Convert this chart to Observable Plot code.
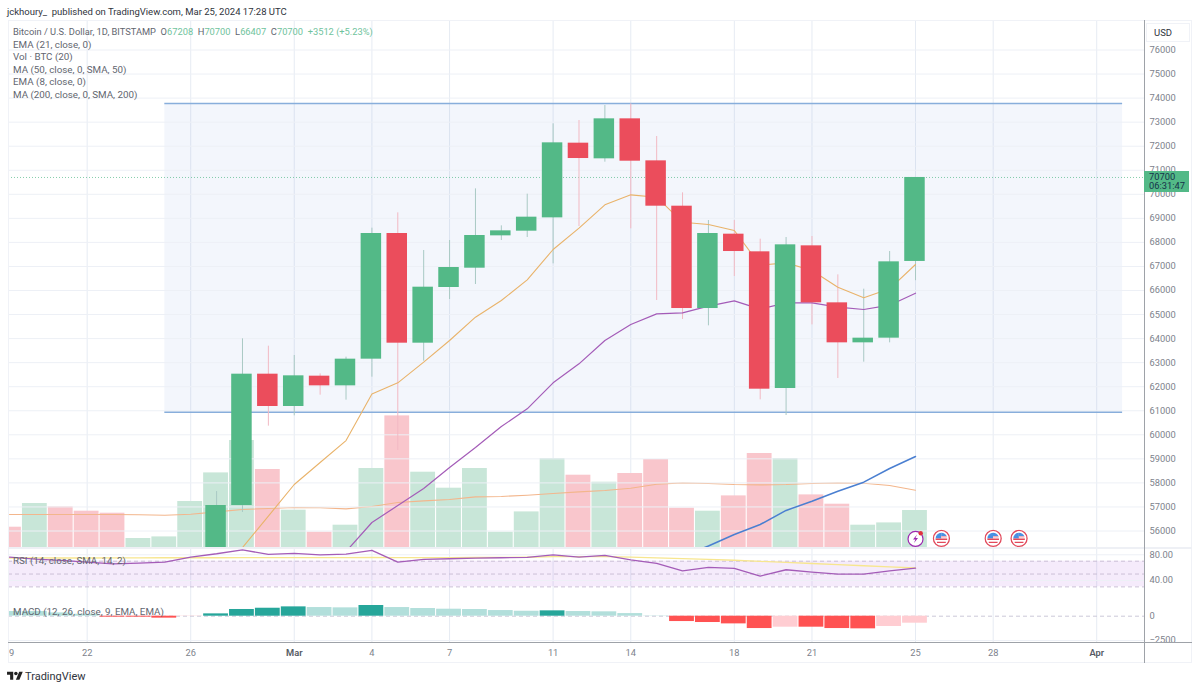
<!DOCTYPE html>
<html>
<head>
<meta charset="utf-8">
<script src="https://cdn.jsdelivr.net/npm/d3@7"></script>
<script src="https://cdn.jsdelivr.net/npm/@observablehq/plot@0.6"></script>
<style>
html,body{margin:0;padding:0;background:#fff}
#page{position:relative;width:1200px;height:689px;overflow:hidden;font-family:Roboto,"Noto Sans",sans-serif}
#page svg{position:absolute;left:0;top:0}
.t{position:absolute;white-space:pre;line-height:1}
.box{position:absolute}
</style>
</head>
<body>
<div id="page"></div>
<script>
// ---------- data ----------
const candleDates = ["2024-02-27","2024-02-28","2024-02-29","2024-03-01","2024-03-02","2024-03-03","2024-03-04","2024-03-05","2024-03-06","2024-03-07","2024-03-08","2024-03-09","2024-03-10","2024-03-11","2024-03-12","2024-03-13","2024-03-14","2024-03-15","2024-03-16","2024-03-17","2024-03-18","2024-03-19","2024-03-20","2024-03-21","2024-03-22","2024-03-23","2024-03-24","2024-03-25"];
const opens  = [54500,57060,62521,61177,62438,62036,63145,68370,63810,66125,66928,68273,68467,69021,72126,71475,73138,71391,69506,65251,68342,67608,61925,67857,65487,63824,64018,67208];
const highs  = [57640,63990,63685,63297,62535,63228,68592,69229,67663,68079,70227,68689,70005,72930,73068,73692,73760,72403,70061,68910,68910,68134,68204,68245,66651,66055,67621,70700];
const lows   = [54450,56770,60359,60790,61648,61440,62396,59347,63062,65626,66249,68079,68204,67109,68661,71336,68564,65584,64794,64531,66582,61454,60802,64572,62341,63020,63824,66407];
const closes = [57060,62521,61177,62452,62036,63145,68370,63810,66138,66956,68287,68481,69049,72140,71488,73138,71377,69506,65251,68370,67621,61897,67899,65487,63824,64018,67192,70700];

const fastDates = candleDates.slice(1);
const fastLine  = [55310,56620,57933,58850,59760,61700,62160,63020,63921,64891,65584,66443,67705,68592,69562,69978,69880,68841,68744,68495,67053,67150,66831,66138,65695,66069,67081];
const slowDates = candleDates.slice(5);
const slowLine  = [55146,56354,57060,57770,58640,59470,60345,61079,62160,62951,63921,64586,65030,65071,65349,65570,65224,65487,65487,65307,65210,65390,65889];
const longDates = candleDates.slice(18);
const longLine  = [54970,55375,55855,56270,56855,57240,57655,58030,58600,59100];

const rangeTop = 73777, rangeBottom = 60940, rangeStart = "2024-02-25", rangeEnd = "2024-04-02";
const lastPrice = 70700;
const priceTicks = d3.range(56000, 76001, 1000);

const allDates = ["2024-02-19","2024-02-20","2024-02-21","2024-02-22","2024-02-23","2024-02-24","2024-02-25","2024-02-26",...candleDates];
const volumes  = [2030,4400,4060,3630,3430,900,1060,4600,7460,10700,7800,3730,1530,2230,7900,13160,7530,5930,7900,1530,3560,8900,7230,6530,7400,8800,3930,3630,5160,9400,8900,5260,4330,2230,2460,3700];
const volDirs  = ["down","up","down","down","down","up","up","up","up","up","down","up","down","up","up","down","up","up","up","up","up","up","down","up","down","down","down","up","down","down","up","down","down","up","up","up"];
const volAvg   = [3300,3300,3300,3300,3300,3280,3230,3330,3560,3800,3900,4000,3980,3860,4100,4500,4660,4800,5060,5100,5230,5400,5560,5700,5930,6330,6460,6400,6300,6260,6300,6400,6460,6430,6200,5730];

const rsiValues = [76.4,73.3,71.2,68.6,66,67,68.6,76.4,81.6,87.8,80.5,82.1,80,81,86.8,68.6,72.8,73.8,74.8,75.4,75.9,80,76.4,79,72.2,66.5,55.1,60.3,58.7,46.8,56.7,53,49.9,49.9,55.1,59.3];
const rsiAvg    = [75,75.1,75,75,75.2,75.3,75.4,75.4,75.4,75.5,75.6,75.6,75.6,75.7,75.8,75.6,75.6,75.7,75.8,76,76.2,77,77,77.2,76.4,75.3,74,72.8,71.5,69.7,68.2,66.4,64.7,62.9,61.2,59.4];
const rsiTicks = [80, 40], rsiBands = [70, 50, 30];

const macdHist  = [480,480,340,200,-100,-100,-200,-30,240,690,820,960,890,860,1100,890,790,720,690,580,510,550,480,450,270,30,-550,-650,-790,-1270,-1130,-1130,-1270,-1300,-1060,-720];
const macdKinds = ["paleGreen","paleGreen","paleGreen","paleGreen","red","red","red","paleRed","green","green","green","green","paleGreen","paleGreen","green","paleGreen","paleGreen","paleGreen","paleGreen","paleGreen","paleGreen","green","paleGreen","paleGreen","paleGreen","paleGreen","red","red","red","red","paleRed","red","red","red","paleRed","paleRed"];
const macdTicks = [0, -2500];

const timeTicks  = ["2024-02-22","2024-02-26","2024-03-04","2024-03-07","2024-03-11","2024-03-14","2024-03-18","2024-03-21","2024-03-25","2024-03-28"];
const timeLabels = ["22","26","4","7","11","14","18","21","25","28"];
const monthTicks = ["2024-03-01","2024-04-01"];
const monthLabels = ["Mar","Apr"];

const eventDates = ["2024-03-25","2024-03-26","2024-03-28","2024-03-29"];
const eventKinds = ["bolt","flag","flag","flag"];
const eventLevel = 55690;

const legendLines = ["EMA (21, close, 0)","Vol · BTC (20)","MA (50, close, 0, SMA, 50)","EMA (8, close, 0)","MA (200, close, 0, SMA, 200)"];

// ---------- helpers ----------
const day = s => new Date(s + "T00:00:00Z");
const xDomain = [new Date(Date.UTC(2024,1,18,23,4)), new Date(Date.UTC(2024,3,2,20,18))];
const FONT = 'Roboto,"Noto Sans",sans-serif';
const GRID = "#edf0f6", TICK = "#7d828c";
const GREEN = "#53b987", RED = "#eb4d5c";
const layer = (o) => Plot.plot({
  width:1200, height:689, marginLeft:8, marginRight:56,
  x:{domain:xDomain, label:null, axis:null},
  style:{background:"transparent", fontFamily:FONT, fontSize:"9.3px", color:TICK},
  ...o
});
const page = document.getElementById("page");
const around = (s, h) => [d3.utcHour.offset(day(s), -h), d3.utcHour.offset(day(s), h)];
const bodyH = 9.6, barH = 11.6;

const candles = candleDates.map((d,i)=>({date:day(d),d,open:opens[i],high:highs[i],low:lows[i],close:closes[i],dir:closes[i]>=opens[i]?"up":"down"}));
const toSeries = (ds, vs) => ds.map((d,i)=>({date:day(d), value:vs[i]}));
const bars = allDates.map((d,i)=>({d,date:day(d),vol:volumes[i],dir:volDirs[i],hist:macdHist[i],kind:macdKinds[i]}));

// ---------- icons ----------
const svgUri = s => "data:image/svg+xml," + encodeURIComponent(s);
const flagIcon = svgUri(`<svg xmlns="http://www.w3.org/2000/svg" viewBox="0 0 18 18"><circle cx="9" cy="9" r="8" fill="#fff" stroke="#e2495b" stroke-width="1.3"/><path d="M3.2 9a5.8 5.8 0 0 1 5.6-5.8V9z" fill="#4a90e2"/><path d="M8.8 3.2a5.8 5.8 0 0 1 5.5 3.5H8.8z" fill="#4a90e2"/><path d="M3.2 9h11.6v1.6H3.2z" fill="#e2495b"/><path d="M8.8 6.7h5.6V8H8.8z" fill="#f3a0a8"/><path d="M4.6 12.3h8.8v1.2H4.6z" fill="#e2495b"/></svg>`);
const boltIcon = svgUri(`<svg xmlns="http://www.w3.org/2000/svg" viewBox="0 0 18 18"><circle cx="9" cy="9.5" r="7.5" fill="#fff" stroke="#9c27b0" stroke-width="1.2"/><path d="M10.5 5L6.5 10h2.4l-1.4 3.6 4-5H9z" fill="#9c27b0"/><circle cx="14.2" cy="3.8" r="2.2" fill="#e0313f"/></svg>`);
const iconOf = {bolt:boltIcon, flag:flagIcon};

// ---------- axis + vertical grid layer ----------
const axisPlot = layer({
  marginTop:20, marginBottom:47,
  marks:[
    Plot.gridX([...timeTicks,...monthTicks].map(day), {stroke:"#e6ebf3", strokeOpacity:1}),
    Plot.axisX(timeTicks.map(day), {tickSize:0, tickPadding:7, label:null, tickFormat:(d,i)=>timeLabels[i], fill:TICK}),
    Plot.axisX(monthTicks.map(day), {tickSize:0, tickPadding:7, label:null, tickFormat:(d,i)=>monthLabels[i], fill:"#555a63", fontWeight:600}),
    Plot.axisX([day("2024-02-19")], {tickSize:0, tickPadding:7, label:null, tickFormat:()=>"9", fill:TICK, dx:2})
  ]
});
page.append(axisPlot);

// ---------- volume layer ----------
const volPlot = layer({
  marginTop:20, marginBottom:142,
  y:{domain:[0,52700], axis:null},
  color:{domain:["up","down"], range:["#c8e6d8","#f9c6cc"]},
  marks:[
    Plot.rect(bars, {x1:d=>around(d.d,barH)[0], x2:d=>around(d.d,barH)[1], y1:0, y2:"vol", fill:"dir", clip:true}),
    Plot.line(toSeries(allDates, volAvg), {x:"date", y:"value", stroke:"#f3b68c", strokeWidth:1.1})
  ]
});
page.append(volPlot);

// ---------- price layer ----------
const pricePlot = layer({
  marginTop:20, marginBottom:142,
  y:{domain:[55314,77227], label:null},
  color:{domain:["up","down"], range:[GREEN,RED]},
  marks:[
    Plot.rect([{}], {x1:day(rangeStart), x2:day(rangeEnd), y1:rangeBottom, y2:rangeTop, fill:"#3a5fc8", fillOpacity:0.06}),
    Plot.gridY(priceTicks, {stroke:GRID, strokeOpacity:1}),
    Plot.axisY(priceTicks, {anchor:"right", tickSize:0, tickPadding:5, label:null, fill:TICK, tickFormat:d=>String(d)}),
    Plot.ruleY([rangeTop, rangeBottom], {x1:day(rangeStart), x2:day(rangeEnd), stroke:"#88aedb", strokeWidth:1.5}),
    Plot.ruleY([lastPrice], {stroke:GREEN, strokeDasharray:"1 2", strokeOpacity:0.7}),
    Plot.ruleX(candles, {x:"date", y1:"low", y2:"high", stroke:d=>d.dir==="up"?"#a9c9c4":"#f2b9c3", strokeWidth:1, clip:true}),
    Plot.line(toSeries(fastDates, fastLine), {x:"date", y:"value", stroke:"#e9b36a", strokeWidth:1.1, clip:true}),
    Plot.line(toSeries(slowDates, slowLine), {x:"date", y:"value", stroke:"#a45cb8", strokeWidth:1.2, clip:true}),
    Plot.line(toSeries(longDates, longLine), {x:"date", y:"value", stroke:"#4a7fd1", strokeWidth:1.5, clip:true}),
    Plot.rect(candles, {x1:d=>around(d.d,bodyH)[0], x2:d=>around(d.d,bodyH)[1], y1:"open", y2:"close", fill:"dir", clip:true}),
    Plot.image(eventDates.map((d,i)=>({date:day(d),kind:eventKinds[i]})), {x:"date", y:()=>eventLevel, src:d=>iconOf[d.kind], width:18, height:18})
  ]
});
page.append(pricePlot);

// ---------- RSI layer ----------
const rsiPlot = layer({
  marginTop:548, marginBottom:91,
  y:{domain:[11.9,89.8], label:null},
  marks:[
    Plot.rect([{}], {x1:xDomain[0], x2:xDomain[1], y1:rsiBands[2], y2:rsiBands[0], fill:"#8e24d8", fillOpacity:0.09}),
    Plot.gridY(rsiTicks, {stroke:GRID, strokeOpacity:1}),
    Plot.ruleY(rsiBands, {stroke:"#cbbfd6", strokeDasharray:"4 3"}),
    Plot.axisY(rsiTicks, {anchor:"right", tickSize:0, tickPadding:5, label:null, fill:TICK, tickFormat:d3.format(".2f")}),
    Plot.line(toSeries(allDates, rsiAvg), {x:"date", y:"value", stroke:"#f7e68f", strokeWidth:1.3}),
    Plot.line(toSeries(allDates, rsiValues), {x:"date", y:"value", stroke:"#a45cb8", strokeWidth:1.3})
  ]
});
page.append(rsiPlot);

// ---------- MACD layer ----------
const macdPlot = layer({
  marginTop:598, marginBottom:47,
  y:{domain:[-2706,1821], label:null},
  color:{domain:["green","paleGreen","red","paleRed"], range:["#26a69a","#b2dfdb","#ff5252","#ffcdd2"]},
  marks:[
    Plot.ruleY(macdTicks.slice(1), {stroke:GRID}),
    Plot.ruleY([0], {stroke:"#cbc8d8", strokeDasharray:"4 3"}),
    Plot.rect(bars, {x1:d=>around(d.d,barH)[0], x2:d=>around(d.d,barH)[1], y1:0, y2:"hist", fill:"kind", clip:true}),
    Plot.axisY(macdTicks, {anchor:"right", tickSize:0, tickPadding:5, label:null, fill:TICK, tickFormat:d3.format("d")})
  ]
});
page.append(macdPlot);

// ---------- chrome ----------
function el(cls, css, text){
  const e = document.createElement("div");
  e.className = cls; e.style.cssText = css;
  if (text != null) e.textContent = text;
  page.append(e); return e;
}
const S = 9.8;
// frame
el("box","left:8px;top:20px;width:1184px;height:643px;border:1px solid #f0f2f7;box-sizing:border-box");
el("box","left:8px;top:547px;width:1184px;height:1.5px;background:#eef0f5");
el("box","left:8px;top:642px;width:1184px;height:1.3px;background:#9ea2a8");
el("box","left:1143.5px;top:20px;width:1.5px;height:643px;background:#9ea2a8");

// header
el("t",`left:7px;top:6.5px;font-size:9.5px;color:#30343c`,"jckhoury_  published on TradingView.com, Mar 25, 2024 17:28 UTC");

// legend
const head = el("t",`left:13px;top:27px;font-size:9.3px;color:#62666f`);
const G = "#6fc39d";
head.innerHTML = `Bitcoin / U.S. Dollar, 1D, BITSTAMP  O<span style="color:${G}">67208</span>  H<span style="color:${G}">70700</span>  L<span style="color:${G}">66407</span>  C<span style="color:${G}">70700</span>  <span style="color:${G}">+3512 (+5.23%)</span>`;
legendLines.forEach((s,i)=> el("t",`left:13px;top:${39.5+i*12.5}px;font-size:${S}px;color:#62666f`,s));
el("t",`left:13px;top:555.5px;font-size:${S}px;color:#62666f`,"RSI (14, close, SMA, 14, 2)");
el("t",`left:13px;top:606.5px;font-size:${S}px;color:#62666f`,"MACD (12, 26, close, 9, EMA, EMA)");

// USD button
el("box","left:1146px;top:23px;width:44px;height:19px;background:#fff;border:1px solid #f0f2f7;box-sizing:border-box");
el("t",`left:1154px;top:27.5px;font-size:9.5px;color:#30343c`,"USD");

// last price tag, placed with the price scale
const yLast = pricePlot.scale("y").apply(lastPrice);
el("box",`left:1144px;top:${yLast-6}px;width:45px;height:21px;background:${GREEN}`);
el("t",`left:1149px;top:${yLast-4.5}px;font-size:9.3px;color:#16324a`,"70700");
el("t",`left:1149px;top:${yLast+4.5}px;font-size:9.3px;color:#16324a`,"06:31:47");

// footer
const logo = document.createElementNS("http://www.w3.org/2000/svg","svg");
logo.setAttribute("viewBox","0 0 36 28");
logo.setAttribute("width","16"); logo.setAttribute("height","12.4");
logo.style.cssText = "left:7px;top:670px";
logo.innerHTML = '<path fill="#222" d="M14 22H7V11H0V4h14v18zM28 22h-8l7.5-18h8L28 22z"/><circle fill="#222" cx="20" cy="8" r="4"/>';
page.append(logo);
el("t","left:25px;top:670.5px;font-size:11px;color:#30343c","TradingView");
</script>
</body>
</html>
